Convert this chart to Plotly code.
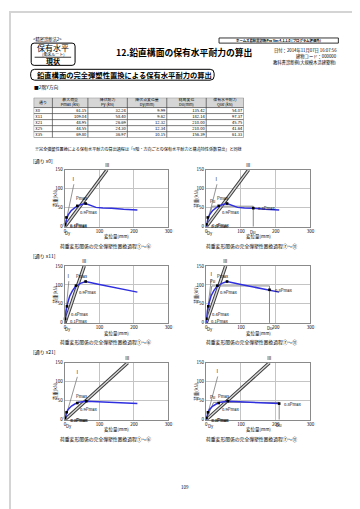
import plotly.graph_objects as go

W, H = 360, 509
FONT = "Noto Sans CJK JP, Noto Sans, sans-serif"

# ---------------- table data ----------------
streets = ["x0", "x11", "x21", "x25", "x35"]
pmax = [61.15, 109.04, 48.95, 44.55, 69.80]
py_kn = [32.24, 58.40, 26.69, 24.30, 36.97]
dy_mm = [9.99, 9.62, 12.32, 12.34, 10.15]
du_mm = [135.42, 182.14, 210.00, 210.00, 156.39]
qu_kn = [54.07, 97.37, 45.75, 41.64, 61.33]
headers = ["通り", "最大荷重<br>Pmax (kN)", "降伏耐力<br>Py (kN)",
           "降伏点変位量<br>Dy(mm)", "終局変位<br>Du(mm)", "保有水平耐力<br>Que (kN)"]

# ---------------- envelope curves ----------------
env_x0_d = [0, 2, 5, 10, 18, 30, 45, 60, 75, 90, 110, 135.42, 170, 210]
env_x0_p = [0, 12, 22, 32, 42, 51, 58, 61.15, 57, 51, 49.5, 48.9, 46, 44]
env_x11_d = [0, 3, 8, 14, 22, 30, 45, 60, 100, 140, 182.14, 210]
env_x11_p = [0, 31, 52, 71, 85, 95, 104, 109.04, 101, 94, 87.2, 81]
env_x21_d = [0, 2, 5, 10, 19, 30, 40, 62, 100, 150, 210]
env_x21_p = [0, 10, 20, 28, 36, 42, 46, 48.95, 47.5, 45.5, 42.5]

# characteristic points on the envelopes (0.1Pmax, 0.4Pmax, 0.9Pmax, Pmax)
pts_x0_d = [0.6, 4.5, 36, 60]
pts_x0_p = [6.1, 24.5, 55.0, 61.15]
pts_x11_d = [0.5, 6, 32, 60]
pts_x11_p = [10.9, 43.6, 98.1, 109.04]
pts_x21_d = [0.6, 5, 36, 62]
pts_x21_p = [4.9, 19.6, 44.0, 48.95]
pt_labels = ["0.1Pmax", "0.4Pmax", "0.9Pmax", "Pmax"]

# ultimate point (0.8Pmax or limit)
ult_p = [48.9, 87.2, 42.5]

# auxiliary straight lines (top ends)
line1_left_d = [26, 11.4, 36]
line1_left_p = [112, 110, 113]
line1_right_d = [31, 14.3, 33]
line1_right_p = [112, 114.6, 114]
line3_d = [122, 56, 182]
line3_p = [150, 150, 150]

shown = [0, 1, 2]  # x0, x11, x21
envs = [(env_x0_d, env_x0_p), (env_x11_d, env_x11_p), (env_x21_d, env_x21_p)]
pts = [(pts_x0_d, pts_x0_p), (pts_x11_d, pts_x11_p), (pts_x21_d, pts_x21_p)]


def X(px):
    return px / W


def Y(py):
    return 1 - py / H


fig = go.Figure()
annotations = []
shapes = []


def txt(x, y, s, size=4.5, xa="left", ya="middle", bold=False, color="black", angle=0):
    annotations.append(dict(x=X(x), y=Y(y), xref="paper", yref="paper", text=("<b>%s</b>" % s) if bold else s,
                            showarrow=False, xanchor=xa, yanchor=ya, textangle=angle,
                            font=dict(size=size, family=FONT, color=color)))


def rrect(x0, y0, x1, y1, r, lw=1, color="black", fill=None):
    a0, b0, a1, b1 = X(x0), Y(y0), X(x1), Y(y1)
    rx, ry = r / W, r / H
    p = (f"M {a0+rx},{b0} L {a1-rx},{b0} Q {a1},{b0} {a1},{b0-ry} L {a1},{b1+ry} Q {a1},{b1} {a1-rx},{b1} "
         f"L {a0+rx},{b1} Q {a0},{b1} {a0},{b1+ry} L {a0},{b0-ry} Q {a0},{b0} {a0+rx},{b0} Z")
    shapes.append(dict(type="path", xref="paper", yref="paper", path=p,
                       line=dict(color=color, width=lw), fillcolor=fill or "rgba(0,0,0,0)"))


# ---------------- page frame / header ----------------
shapes.append(dict(type="rect", xref="paper", yref="paper", x0=X(1), x1=X(359), y0=Y(1), y1=Y(508),
                   line=dict(color="#d4d4d4", width=2)))
txt(22, 29, "&lt;精密診断法2&gt;", 4.3)
rrect(22.5, 32.5, 67, 55, 3, lw=1)
shapes.append(dict(type="line", xref="paper", yref="paper", x0=X(26), x1=X(63), y0=Y(46.8), y1=Y(46.8),
                   line=dict(color="black", width=0.8)))
txt(44.8, 37.2, "保有水平", 8, xa="center")
txt(44.8, 43.4, "(柔床ルート)", 4.0, xa="center")
txt(44.8, 51, "現状", 7, xa="center", bold=True)
txt(177, 42.3, "12.鉛直構面の保有水平耐力の算出", 8.8, xa="center", bold=True)
shapes.append(dict(type="rect", xref="paper", yref="paper", x0=X(213), x1=X(334), y0=Y(27.3), y1=Y(32.5),
                   line=dict(color="black", width=0.8)))
txt(273.5, 30, "ホームズ君耐震診断Pro Ver.4.1.1.0 (プログラム評価外)", 3.4, xa="center", bold=True)
txt(335, 40, "日付：2014年11月07日 16:07:56", 4.3, xa="right")
txt(335, 45.8, "建物コード：000000", 4.3, xa="right")
txt(335, 52, "教科書診断例(大規模木造建築物)", 4.3, xa="right")
rrect(22, 59, 208, 70, 4, lw=1)
txt(26, 64.6, "鉛直構面の完全弾塑性置換による保有水平耐力の算出", 7.3, bold=True)
txt(23, 76.5, "■2階Y方向", 4.8)
txt(24, 139.5, "※完全弾塑性置換による保有水平耐力の算出過程は「Y階・方向ごとの保有水平耐力と構造特性係数算出」と同様", 4.1)
txt(178, 482, "109", 4.5, xa="center")

# ---------------- table (axis 7) ----------------
col_edges = [0, 19, 55, 95, 135, 175, 213]
hdr_h, row_h = 10, 6.1
tab_h = hdr_h + row_h * len(streets)
fig.update_layout(xaxis7=dict(domain=[X(25), X(238)], range=[0, 213], visible=False, fixedrange=True),
                  yaxis7=dict(domain=[Y(87.7 + tab_h), Y(87.7)], range=[tab_h, 0], visible=False, fixedrange=True, anchor="x7"))
shapes.append(dict(type="rect", xref="x7", yref="y7", x0=0, x1=213, y0=0, y1=hdr_h,
                   fillcolor="#d6d6d6", line=dict(width=0), layer="below"))
for e in col_edges:
    shapes.append(dict(type="line", xref="x7", yref="y7", x0=e, x1=e, y0=0, y1=tab_h, line=dict(color="#444", width=0.7)))
for k in range(len(streets) + 2):
    yy = 0 if k == 0 else hdr_h + row_h * (k - 1)
    shapes.append(dict(type="line", xref="x7", yref="y7", x0=0, x1=213, y0=yy, y1=yy, line=dict(color="#444", width=0.7)))
centers = [(col_edges[i] + col_edges[i + 1]) / 2 for i in range(6)]
fig.add_trace(go.Scatter(x=centers, y=[hdr_h / 2] * 6, text=headers, mode="text", xaxis="x7", yaxis="y7",
                         textfont=dict(size=3.9, family=FONT, color="black"), hoverinfo="skip"))
row_y = [hdr_h + row_h * (k + 0.5) for k in range(len(streets))]
fig.add_trace(go.Scatter(x=[col_edges[0] + 2] * len(streets), y=row_y, text=streets, mode="text",
                         textposition="middle right", xaxis="x7", yaxis="y7",
                         textfont=dict(size=4.1, family=FONT, color="black"), hoverinfo="skip"))
for ci, col in enumerate([pmax, py_kn, dy_mm, du_mm, qu_kn]):
    fig.add_trace(go.Scatter(x=[col_edges[ci + 2] - 1.5] * len(col), y=row_y, text=["%.2f" % v for v in col],
                             mode="text", textposition="middle left", xaxis="x7", yaxis="y7",
                             textfont=dict(size=4.1, family=FONT, color="black"), hoverinfo="skip"))

# ---------------- charts ----------------
left_dom = (56.7, 161.7)
right_dom = (200, 305.7)
cap_cx = (97.5, 245.5)
row_tops = [160.7, 258.0, 356.0]
plot_h = 57.6
section_y = [151.5, 248.3, 345]

for r, si in enumerate(shown):
    txt(22, section_y[r], "[通り %s]" % streets[si], 5.0)
    ed, ep = envs[r]
    pd_, pp_ = pts[r]
    for c in range(2):
        i = r * 2 + c + 1
        xs = "" if i == 1 else str(i)
        dom = left_dom if c == 0 else right_dom
        top = row_tops[r]
        bot = top + plot_h
        ax = dict(showgrid=True, gridcolor="#c4c4c4", gridwidth=1, showline=True, mirror=True,
                  linecolor="#8a8a8a", linewidth=1.4, zeroline=False, ticks="", fixedrange=True,
                  tickfont=dict(size=4.5, family=FONT, color="black"))
        fig.update_layout(**{
            "xaxis" + xs: dict(ax, domain=[X(dom[0]), X(dom[1])], range=[0, 300], tickvals=[0, 100, 200, 300],
                               anchor="y" + xs),
            "yaxis" + xs: dict(ax, domain=[Y(bot), Y(top)], range=[0, 150], tickvals=[0, 50, 100, 150],
                               anchor="x" + xs),
        })
        xr, yr = "x" + xs, "y" + xs
        # labels around the plot
        txt((dom[0] + dom[1]) / 2, bot + 10.3, "変位量(mm)", 4.5, xa="center")
        txt(dom[0] - 10, (top + bot) / 2, "荷重(kN)", 4.5, xa="center", angle=-90)
        cap = "荷重変形関係の完全弾塑性置換過程①～⑥" if c == 0 else "荷重変形関係の完全弾塑性置換過程⑦～⑪"
        txt(cap_cx[c], bot + 19.3, cap, 4.8, xa="center")

        l1d = line1_left_d[r] if c == 0 else line1_right_d[r]
        l1p = line1_left_p[r] if c == 0 else line1_right_p[r]
        fig.add_trace(go.Scatter(x=[0, l1d], y=[0, l1p], mode="lines", xaxis=xr, yaxis=yr,
                                 line=dict(color="#7a7a7a", width=0.8), hoverinfo="skip", cliponaxis=False))
        annotations.append(dict(x=l1d, y=l1p, xref=xr, yref=yr, text="Ⅰ", showarrow=False, yanchor="bottom",
                                font=dict(size=4.5, family=FONT, color="black")))
        # double line (lines II / III)
        fig.add_trace(go.Scatter(x=[0, line3_d[r]], y=[0, line3_p[r]], mode="lines", xaxis=xr, yaxis=yr,
                                 line=dict(color="#3a3a3a", width=3.4), hoverinfo="skip", cliponaxis=False))
        fig.add_trace(go.Scatter(x=[0, line3_d[r]], y=[0, line3_p[r]], mode="lines", xaxis=xr, yaxis=yr,
                                 line=dict(color="#d8d8d8", width=1.4), hoverinfo="skip", cliponaxis=False))
        annotations.append(dict(x=line3_d[r], y=line3_p[r], xref=xr, yref=yr, text="Ⅲ", showarrow=False,
                                yanchor="bottom", xanchor="center",
                                font=dict(size=4.5, family=FONT, color="black")))
        if c == 1:
            k = py_kn[si] / dy_mm[si]
            fig.add_trace(go.Scatter(x=[0, qu_kn[si] / k, du_mm[si], du_mm[si]],
                                     y=[0, qu_kn[si], qu_kn[si], 0], mode="lines", xaxis=xr, yaxis=yr,
                                     line=dict(color="#8c8c8c", width=1.0), hoverinfo="skip"))
        fig.add_trace(go.Scatter(x=ed, y=ep, mode="lines", xaxis=xr, yaxis=yr,
                                 line=dict(color="#2f2fe0", width=1.5), hoverinfo="skip"))
        mx, my = list(pd_), list(pp_)
        if c == 1:
            mx.append(du_mm[si])
            my.append(ult_p[r])
        fig.add_trace(go.Scatter(x=mx, y=my, mode="markers", xaxis=xr, yaxis=yr,
                                 marker=dict(symbol="square", size=2.6, color="black"), hoverinfo="skip",
                                 cliponaxis=False))
        lf = dict(size=4.2, family=FONT, color="black")
        annotations.append(dict(x=pd_[0], y=pp_[0], xref=xr, yref=yr, text=pt_labels[0], showarrow=False,
                                xanchor="left", yanchor="middle", xshift=3, yshift=-2, font=lf))
        annotations.append(dict(x=pd_[1], y=pp_[1], xref=xr, yref=yr, text=pt_labels[1], showarrow=False,
                                xanchor="left", yanchor="top", xshift=2, yshift=-3, font=lf))
        annotations.append(dict(x=pd_[2], y=pp_[2], xref=xr, yref=yr, text=pt_labels[2], showarrow=False,
                                xanchor="left", yanchor="top", xshift=1, yshift=-1, font=lf))
        annotations.append(dict(x=pd_[3], y=pp_[3], xref=xr, yref=yr, text=pt_labels[3], showarrow=False,
                                xanchor="center", yanchor="bottom", xshift=-4, yshift=0.5, font=lf))
        annotations.append(dict(x=dy_mm[si], y=0, xref=xr, yref=yr, text="Dy", showarrow=False,
                                xanchor="center", yanchor="top", yshift=-0.8, font=lf))
        if c == 1:
            annotations.append(dict(x=0, y=qu_kn[si], xref=xr, yref=yr, text="Pu", showarrow=False,
                                    xanchor="left", yanchor="bottom", xshift=2, font=lf))
            annotations.append(dict(x=du_mm[si], y=0, xref=xr, yref=yr, text="Du", showarrow=False,
                                    xanchor="center", yanchor="top", yshift=-0.5, font=lf))
            annotations.append(dict(x=du_mm[si], y=ult_p[r], xref=xr, yref=yr, text="0.8Pmax", showarrow=False,
                                    xanchor="left", yanchor="middle", xshift=3, font=lf))

fig.update_layout(width=W, height=H, autosize=False, margin=dict(l=0, r=0, t=0, b=0),
                  paper_bgcolor="white", plot_bgcolor="white", showlegend=False,
                  annotations=annotations, shapes=shapes, font=dict(family=FONT))
fig.write_html("out.html")
